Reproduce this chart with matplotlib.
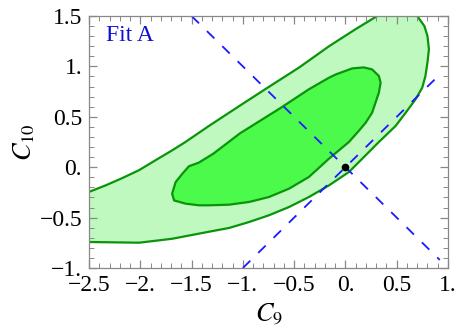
import numpy as np
import matplotlib
matplotlib.use('Agg')
import matplotlib.pyplot as plt
from matplotlib.patches import Polygon

plt.rcParams['font.family'] = ['Liberation Serif', 'DejaVu Serif']
plt.rcParams['mathtext.fontset'] = 'stix'
plt.rcParams['lines.scale_dashes'] = False

# 2 sigma region (outer contour)
outer_c9 = [-2.8, -2.5, -2.337, -2.18, -2.013, -1.85, -1.688, -1.56, -1.33,
            -1.0, -0.78, -0.45, -0.16, 0.1, 0.31, 0.45, 0.58, 0.70, 0.77,
            0.80, 0.814, 0.80, 0.78, 0.749, 0.684, 0.587, 0.489, 0.326,
            0.197, 0.034, -0.063, -0.16, -0.356, -0.55, -0.746, -0.94,
            -1.135, -1.33, -1.69, -2.01, -2.5, -2.8]
outer_c10 = [-0.38, -0.245, -0.18, -0.11, -0.03, 0.07, 0.168, 0.25, 0.41,
             0.63, 0.775, 0.99, 1.2, 1.37, 1.5, 1.58, 1.58, 1.5, 1.40,
             1.30, 1.17, 1.04, 0.905, 0.789, 0.674, 0.54, 0.409, 0.25,
             0.118, -0.048, -0.114, -0.18, -0.296, -0.395, -0.477, -0.544,
             -0.603, -0.64, -0.71, -0.749, -0.742, -0.735]

# 1 sigma region (inner contour)
inner_c9 = [-1.69, -1.655, -1.59, -1.525, -1.43, -1.288, -1.028, -0.638,
            -0.356, -0.16, -0.095, 0.066, 0.18, 0.26, 0.326, 0.343,
            0.326, 0.26, 0.197, 0.13, 0.034, -0.161, -0.356, -0.55, -0.746,
            -0.94, -1.135, -1.33, -1.428, -1.557, -1.67]
inner_c10 = [-0.263, -0.147, -0.065, 0.01, 0.045, 0.134, 0.336, 0.584,
             0.773, 0.888, 0.92, 0.98, 0.99, 0.97, 0.905, 0.838,
             0.739, 0.54, 0.441, 0.36, 0.25, 0.084, -0.097, -0.213, -0.296,
             -0.345, -0.372, -0.378, -0.378, -0.362, -0.33]

# dashed lines
line1_c9 = [-1.5, 0.92]
line1_c10 = [1.5, -0.92]
line2_c9 = [-1.0, 0.93]
line2_c10 = [-1.0, 0.93]

# best fit / SM point
point_c9 = [0.0]
point_c10 = [0.0]

xticks = [-2.5, -2.0, -1.5, -1.0, -0.5, 0.0, 0.5, 1.0]
xticklabels = ['\u22122.5', '\u22122.', '\u22121.5', '\u22121.', '\u22120.5', '0.', '0.5', '1.']
yticks = [-1.0, -0.5, 0.0, 0.5, 1.0, 1.5]
yticklabels = ['\u22121.', '\u22120.5', '0.', '0.5', '1.', '1.5']

fig = plt.figure(figsize=(4.59, 3.33), dpi=100)
ax = fig.add_axes([89/459, 1 - 268/333, (448 - 89)/459, (268 - 16)/333])

ax.add_patch(Polygon(np.column_stack([outer_c9, outer_c10]), closed=True,
                     facecolor='#bff9bf', edgecolor='#0a940a', linewidth=1.6,
                     joinstyle='round'))
ax.add_patch(Polygon(np.column_stack([inner_c9, inner_c10]), closed=True,
                     facecolor='#4cfa4c', edgecolor='#0a940a', linewidth=1.6,
                     joinstyle='round'))

ax.plot(line1_c9, line1_c10, color='#1a1aff', linewidth=1.3, dashes=[7.5, 8])
ax.plot(line2_c9, line2_c10, color='#1a1aff', linewidth=1.3, dashes=[7.5, 8])
ax.plot(point_c9, point_c10, 'o', color='black', markersize=4.5)

ax.text(-2.33, 1.31, 'Fit A', color='#1010d0', fontsize=17, va='center', ha='left')

ax.set_xlim(-2.5, 1.0)
ax.set_ylim(-1.0, 1.5)
ax.set_xticks(xticks)
ax.set_xticklabels(xticklabels)
ax.set_yticks(yticks)
ax.set_yticklabels(yticklabels)
ax.set_xticks(np.arange(-2.5, 1.001, 0.1), minor=True)
ax.set_yticks(np.arange(-1.0, 1.501, 0.1), minor=True)
ax.tick_params(which='both', direction='in', top=True, right=True,
               color='#888888', labelsize=17)
ax.tick_params(which='major', length=6, width=0.9, pad=5)
ax.tick_params(which='minor', length=3.5, width=0.7)
for s in ax.spines.values():
    s.set_color('#888888')
    s.set_linewidth(0.9)

ax.set_xlabel('$C_9$', fontsize=19, labelpad=4)
ax.set_ylabel('$C_{10}$', fontsize=19, labelpad=2)

fig.savefig('out.png', dpi=100)
